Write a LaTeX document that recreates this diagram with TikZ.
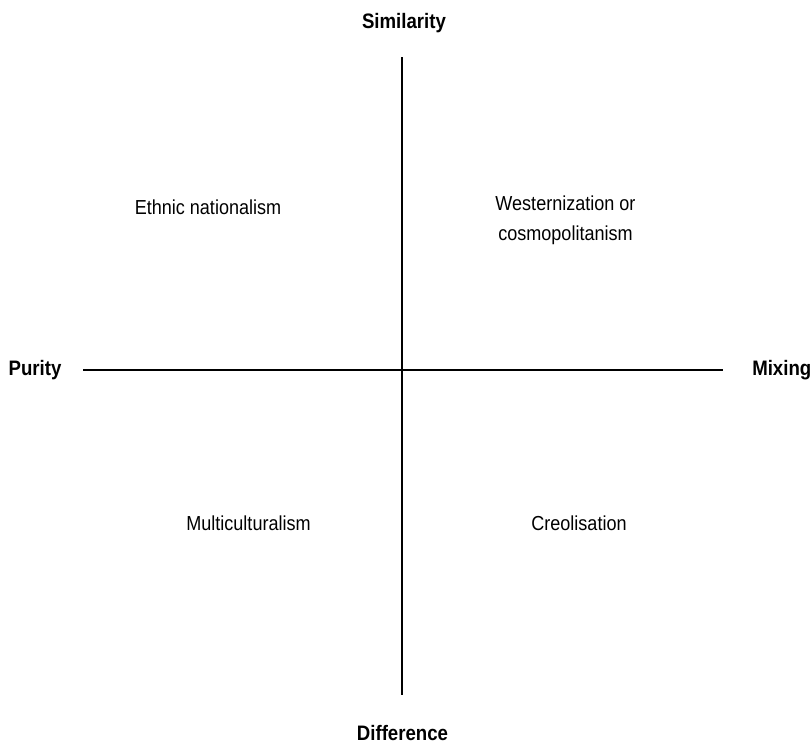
\documentclass[tikz,border=0pt]{standalone}
\usepackage{fontspec}
\setmainfont{Liberation Sans}[FakeStretch=0.89]
\begin{document}
\begin{tikzpicture}[x=0.75pt,y=-0.75pt,
  axis/.style={line width=1.1pt},
  pole/.style={font=\fontsize{15.7}{19}\selectfont\bfseries, anchor=base, inner sep=0pt},
  field/.style={font=\fontsize{15.2}{22}\selectfont, anchor=base, inner sep=0pt, align=center}]
  \useasboundingbox (0,0) rectangle (811,744);
  % axes
  \coordinate (top) at (402,57);
  \coordinate (bottom) at (402,695);
  \coordinate (left) at (83,370);
  \coordinate (right) at (723,370);
  \draw[axis] (top) -- (bottom);
  \draw[axis] (left) -- (right);
  % pole labels
  \node[pole] (sim) at (404,28) {Similarity};
  \node[pole] (dif) at (402.5,740) {Difference};
  \node[pole] (pur) at (35,375) {Purity};
  \node[pole, anchor=base west] (mix) at (752,375) {Mixing};
  % quadrant labels (base of a two-line label is its last line)
  \node[field] (eth) at (208,214) {Ethnic nationalism};
  \node[field] (wes) at (565.5,240) {Westernization or\\cosmopolitanism};
  \node[field] (mul) at (248.5,530) {Multiculturalism};
  \node[field] (cre) at (579,530) {Creolisation};
\end{tikzpicture}
\end{document}
